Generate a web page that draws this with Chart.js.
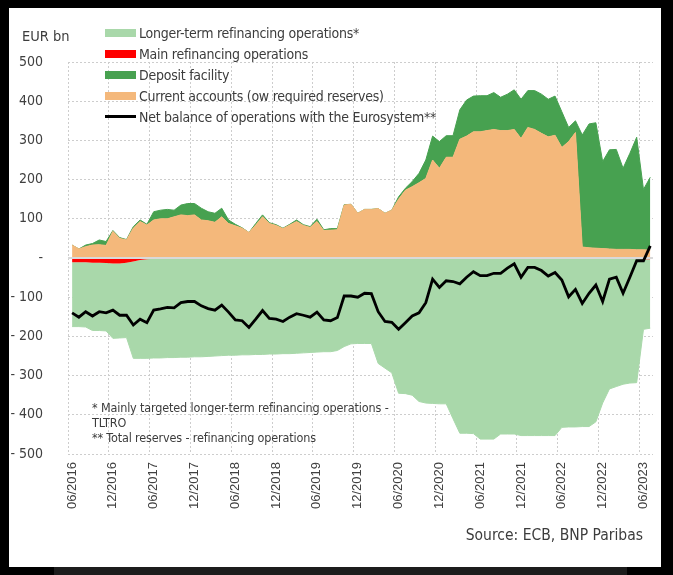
<!DOCTYPE html>
<html>
<head>
<meta charset="utf-8">
<script src="https://cdn.jsdelivr.net/npm/chart.js@4.4.0/dist/chart.umd.min.js"></script>
<style>
  html, body { margin: 0; padding: 0; }
  body {
    width: 673px; height: 575px; background: #000; position: relative; overflow: hidden;
    font-family: 'Liberation Sans Narrow', 'DejaVu Sans Condensed', sans-serif; color: #3c3c3c;
  }
  #panel { position: absolute; left: 9px; top: 8px; width: 652px; height: 559px; background: #fff; }
  #foot-strip { position: absolute; left: 54px; top: 567px; width: 573px; height: 8px; background: #1c1c1c; }
  #chart { position: absolute; left: 0; top: 0; }
  .unit { position: absolute; left: 22px; top: 26px; font-size: 14.5px; line-height: 20px; }
  .legend { position: absolute; left: 105px; top: 23px; }
  .legend-row { height: 20.8px; display: flex; align-items: center; font-size: 14px; letter-spacing: -0.25px; white-space: nowrap; }
  .swatch { width: 31px; height: 8px; margin-right: 3px; flex: none; }
  .swatch.line { height: 3px; background: #000; }
  .notes { position: absolute; left: 92px; top: 400px; font-size: 12.5px; letter-spacing: -0.15px; line-height: 15px; }
  .source { position: absolute; right: 30px; top: 524px; font-size: 15.5px; line-height: 22px; }
</style>
</head>
<body>
<div id="panel"></div>
<div id="foot-strip"></div>
<canvas id="chart" width="673" height="575"></canvas>

<div class="unit">EUR bn</div>
<div class="legend">
  <div class="legend-row"><span class="swatch" style="background:#a9d8aa"></span>Longer-term refinancing operations*</div>
  <div class="legend-row"><span class="swatch" style="background:#ff0000"></span>Main refinancing operations</div>
  <div class="legend-row"><span class="swatch" style="background:#47a150"></span>Deposit facility</div>
  <div class="legend-row"><span class="swatch" style="background:#f4b87b"></span>Current accounts (ow required reserves)</div>
  <div class="legend-row"><span class="swatch line"></span>Net balance of operations with the Eurosystem**</div>
</div>
<div class="notes">
  * Mainly targeted longer-term refinancing operations -<br>
  TLTRO<br>
  ** Total reserves - refinancing operations
</div>
<div class="source">Source: ECB, BNP Paribas</div>

<script>
(function(){
  // x ticks every 6 months, 06/2016 .. 06/2023
  const tickLabels = ['06/2016','12/2016','06/2017','12/2017','06/2018','12/2018','06/2019','12/2019',
                      '06/2020','12/2020','06/2021','12/2021','06/2022','12/2022','06/2023'];

  // monthly observations, mid-June 2016 .. mid-July 2023 (EUR bn)
  const currentAccounts = [
    33, 23, 29, 33, 34, 32, 68, 50, 46, 76,
    93, 84, 97, 100, 100, 105, 110, 108, 110, 97,
    95, 91, 105, 88, 82, 76, 65, 84, 105, 88,
    83, 75, 84, 93, 83, 78, 93, 70, 71, 72,
    135, 137, 114, 124, 124, 126, 114, 122, 150, 173,
    182, 192, 203, 250, 229, 257, 257, 303, 311, 322,
    322, 325, 328, 325, 325, 328, 305, 333, 328, 318,
    309, 313, 282, 297, 320, 28, 26, 25, 24, 23,
    22, 22, 22, 21, 21, 20
  ];
  const depositFacility = [
    0, 0, 4, 4, 12, 10, 2, 2, 1, 4,
    4, 2, 21, 22, 24, 17, 25, 31, 29, 30,
    23, 23, 22, 9, 4, 1, 0, 4, 5, 2,
    2, 1, 2, 4, 2, 2, 6, 2, 4, 3,
    1, 0, 0, 0, 0, 0, 0, 0, 6, 5,
    13, 24, 47, 61, 68, 55, 55, 75, 92, 91,
    92, 89, 94, 85, 93, 101, 100, 94, 99, 100,
    96, 100, 91, 36, 30, 286, 316, 320, 222, 253,
    255, 207, 245, 287, 154, 186
  ];
  const mainRefi = [
    -11, -11, -11, -12, -12, -13, -14, -14, -12, -9,
    -5, -3, -2, -1, -1, -1, -1, -1, -1, -1,
    -1, -1, -1, -1, -2, -2, -2, -2, -2, -2,
    -2, -2, -2, -2, -2, -2, -2, -2, -2, -1,
    0, 0, 0, 0, 0, 0, 0, 0, 0, 0,
    0, 0, 0, 0, 0, 0, 0, 0, 0, 0,
    0, 0, 0, 0, 0, 0, 0, 0, 0, 0,
    0, 0, 0, 0, 0, 0, 0, 0, 0, 0,
    0, 0, 0, 0, -3, -3
  ];
  const longerTerm = [
    -164, -164, -165, -173, -173, -173, -191, -190, -191, -247,
    -251, -253, -253, -254, -253, -253, -252, -252, -251, -251,
    -250, -249, -248, -247, -246, -245, -245, -244, -244, -243,
    -243, -242, -242, -241, -240, -239, -238, -237, -237, -235,
    -226, -219, -218, -218, -218, -269, -281, -293, -345, -346,
    -350, -366, -370, -371, -372, -372, -410, -447, -447, -448,
    -462, -462, -462, -449, -449, -449, -453, -453, -453, -453,
    -453, -453, -432, -431, -431, -430, -430, -418, -370, -334,
    -328, -322, -319, -318, -179, -176
  ];
  const netBalance = [
    -140, -151, -137, -148, -137, -140, -133, -146, -146, -171,
    -156, -165, -133, -130, -126, -127, -114, -111, -111, -122,
    -129, -133, -120, -138, -158, -160, -177, -156, -134, -154,
    -156, -162, -151, -142, -146, -151, -138, -158, -160, -152,
    -97, -97, -100, -90, -91, -137, -162, -164, -182, -165,
    -148, -140, -114, -54, -75, -58, -60, -66, -49, -35,
    -45, -45, -39, -39, -26, -15, -49, -24, -24, -32,
    -46, -37, -56, -99, -80, -116, -90, -69, -111, -54,
    -49, -90, -49, -7, -7, 31
  ];

  const firstMonth = 0.6; // months after the 06/2016 tick
  const toPoints = (arr) => arr.map((v, i) => ({ x: firstMonth + i, y: v }));

  const area = (label, data, color, stack, fill, border) => ({
    label, data: toPoints(data), stack, fill,
    backgroundColor: color, borderColor: border || color, borderWidth: 1,
    pointRadius: 0, tension: 0, order: 1
  });

  // light line along zero, under the net balance line
  const zeroLine = {
    id: 'zeroLine',
    beforeDatasetDraw(chart, args) {
      if (args.index !== 4) return;
      const { ctx, chartArea, scales } = chart;
      const y = scales.y.getPixelForValue(0);
      ctx.save();
      ctx.strokeStyle = '#d9d9d9';
      ctx.lineWidth = 2;
      ctx.beginPath();
      ctx.moveTo(chartArea.left, y);
      ctx.lineTo(chartArea.right, y);
      ctx.stroke();
      ctx.restore();
    }
  };

  const gridOpts = { color: '#cdcdcd', lineWidth: 1, drawTicks: false };
  const borderOpts = { display: false, dash: [2, 2] };

  new Chart(document.getElementById('chart'), {
    type: 'line',
    data: {
      datasets: [
        area('Current accounts (ow required reserves)', currentAccounts, '#f4b87b', 'pos', 'origin'),
        area('Deposit facility', depositFacility, '#47a150', 'pos', '-1'),
        area('Main refinancing operations', mainRefi, '#ff0000', 'neg', 'origin', 'rgba(0,0,0,0)'),
        area('Longer-term refinancing operations*', longerTerm, '#a9d8aa', 'neg', '-1'),
        {
          label: 'Net balance of operations with the Eurosystem**',
          data: toPoints(netBalance), stack: 'net', fill: false,
          borderColor: '#000', borderWidth: 2.8, pointRadius: 0, tension: 0, order: 0
        }
      ]
    },
    options: {
      responsive: false,
      animation: false,
      devicePixelRatio: 1,
      layout: { padding: { left: 8, right: 20, top: 62, bottom: 41 } },
      plugins: { legend: { display: false }, tooltip: { enabled: false } },
      scales: {
        x: {
          type: 'linear', min: 0, max: 86,
          afterBuildTicks: (s) => { s.ticks = tickLabels.map((_, k) => ({ value: k * 6 })); },
          afterFit: (s) => { s.height = 80; },
          ticks: {
            autoSkip: false, minRotation: 90, maxRotation: 90, padding: 8, labelOffset: 4, color: '#404040',
            font: { family: "'Liberation Sans', Arial, sans-serif", size: 13 },
            callback: (v) => tickLabels[Math.round(v / 6)]
          },
          grid: gridOpts,
          border: borderOpts
        },
        y: {
          stacked: true, min: -500, max: 500,
          afterFit: (s) => { s.width = 60; },
          ticks: {
            stepSize: 100, padding: 25, color: '#404040',
            font: { family: "'Liberation Sans Narrow', 'DejaVu Sans Condensed', sans-serif", size: 14 },
            callback: (v) => v === 0 ? '-' : (v < 0 ? '- ' + Math.abs(v) : String(v))
          },
          grid: gridOpts,
          border: borderOpts
        }
      }
    },
    plugins: [zeroLine]
  });
})();
</script>
</body>
</html>
